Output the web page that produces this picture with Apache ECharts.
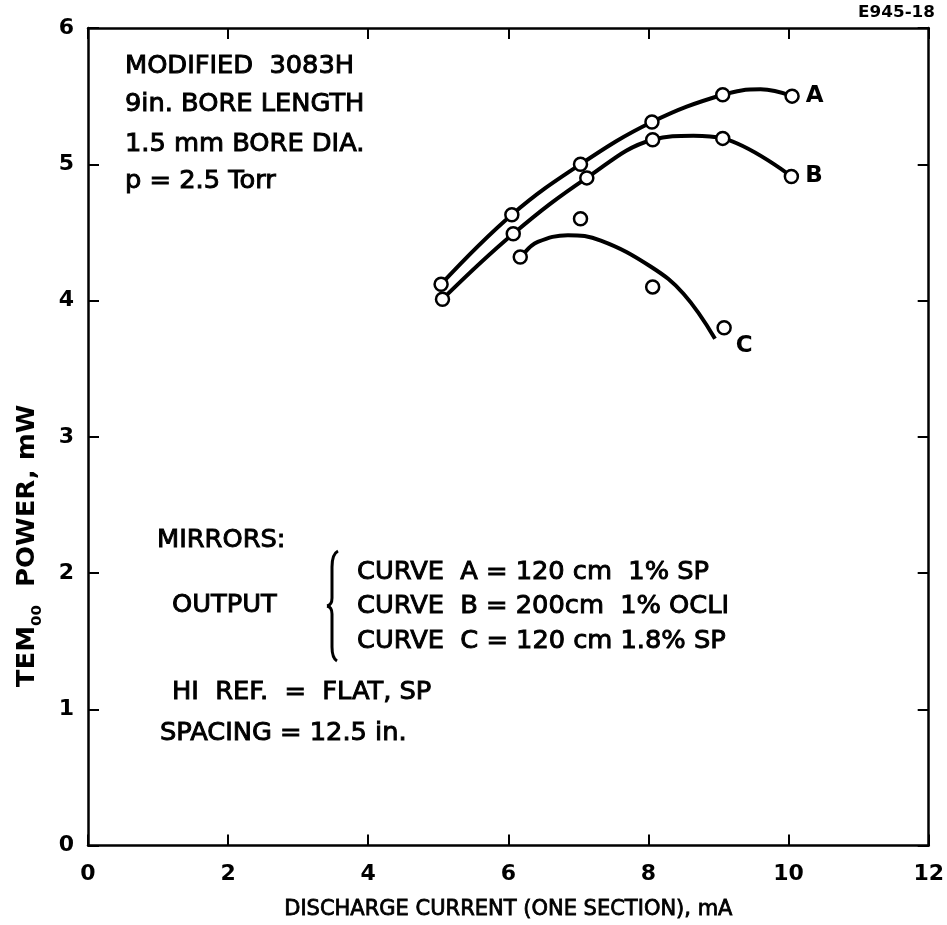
<!DOCTYPE html>
<html>
<head>
<meta charset="utf-8">
<script src="https://cdn.jsdelivr.net/npm/echarts@6/dist/echarts.min.js"></script>
<style>
html,body{margin:0;padding:0;background:#fff;}
#c{width:947px;height:925px;}
</style>
</head>
<body>
<div id="c"></div>
<script>
// ---- data ----
const xTicks = [0, 2, 4, 6, 8, 10, 12];
const yTicks = [0, 1, 2, 3, 4, 5, 6];

// measured points (open circles)
const pointsA = [[5.04, 4.12], [6.05, 4.63], [7.03, 5.00], [8.05, 5.31], [9.06, 5.51], [10.05, 5.50]];
const pointsB = [[5.06, 4.01], [6.07, 4.49], [7.12, 4.90], [8.06, 5.18], [9.06, 5.19], [10.04, 4.91]];
const pointsC = [[6.17, 4.32], [7.03, 4.60], [8.06, 4.10], [9.08, 3.80]];

// hand-drawn curves
const curveA = [[5.04, 4.12], [6.05, 4.63], [7.03, 5.00], [8.05, 5.31], [9.06, 5.51], [9.60, 5.55], [10.05, 5.50]];
const curveB = [[5.06, 4.01], [6.07, 4.49], [7.12, 4.90], [8.06, 5.18], [8.64, 5.21], [9.06, 5.19], [10.04, 4.91]];
const curveC = [[6.23, 4.35], [6.42, 4.43], [6.85, 4.48], [7.32, 4.44], [8.03, 4.25], [8.50, 4.05], [8.95, 3.72]];

const curveNames = ['A', 'B', 'C'];

const topNotes = ['MODIFIED  3083H', '9in. BORE LENGTH', '1.5 mm BORE DIA.', 'p = 2.5 Torr'];
const mirrorNotes = ['CURVE  A = 120 cm  1% SP', 'CURVE  B = 200cm  1% OCLI', 'CURVE  C = 120 cm 1.8% SP'];

const xTitle = 'DISCHARGE CURRENT (ONE SECTION), mA';
const figId = 'E945-18';

// ---- chart ----
const FONT = 'DejaVu Sans';
const chart = echarts.init(document.getElementById('c'), null, {renderer: 'canvas'});

function lineSeries(data) {
  return {
    type: 'line', data: data, smooth: 0.4, showSymbol: false, symbol: 'none',
    lineStyle: {color: '#000', width: 4}, z: 2, silent: true, animation: false
  };
}
function pointSeries(data, name, labelOpt) {
  return {
    type: 'scatter', z: 5, animation: false, silent: true,
    symbol: 'circle', symbolSize: 13,
    itemStyle: {color: '#fff', borderColor: '#000', borderWidth: 2.5, opacity: 1},
    data: data.map(function (p, i) {
      const item = {value: p};
      if (i === data.length - 1) {
        item.label = Object.assign({
          show: true, formatter: name, position: 'right', distance: 6,
          color: '#000', fontFamily: FONT, fontWeight: 'bold', fontSize: 23
        }, labelOpt || {});
      }
      return item;
    })
  };
}

const axisLineStyle = {color: '#000', width: 2.5};
const tickStyle = {show: true, inside: true, length: 11, lineStyle: {color: '#000', width: 2}};
const labelStyle = {color: '#000', fontFamily: FONT, fontWeight: 'bold', fontSize: 22};

const textStyleBase = {fill: '#000', fontFamily: FONT, fontWeight: 'normal', fontSize: 24,
  stroke: '#000', lineWidth: 0.9, verticalAlign: 'middle', align: 'left'};
function note(t, x, y) {
  return {type: 'text', x: x, y: y, scaleX: 1.07, silent: true, style: Object.assign({text: t}, textStyleBase)};
}
const graphics = [];
const topRowsY = [67, 105, 145, 182];
topNotes.forEach(function (t, i) { graphics.push(note(t, 125, topRowsY[i])); });
graphics.push(note('MIRRORS:', 157, 541));
graphics.push(note('OUTPUT', 172, 606));
const mirrorRowsY = [573, 607, 642];
mirrorNotes.forEach(function (t, i) { graphics.push(note(t, 357, mirrorRowsY[i])); });
graphics.push(note('HI  REF.  =  FLAT, SP', 172, 693));
graphics.push(note('SPACING = 12.5 in.', 160, 734));

// curly brace
const braceStyle = {fill: null, stroke: '#000', lineWidth: 3};
graphics.push({type: 'bezierCurve', silent: true, shape: {x1: 338, y1: 551, cpx1: 332, cpy1: 554, x2: 332, y2: 567}, style: braceStyle});
graphics.push({type: 'line', silent: true, shape: {x1: 332, y1: 567, x2: 332, y2: 598}, style: braceStyle});
graphics.push({type: 'bezierCurve', silent: true, shape: {x1: 332, y1: 598, cpx1: 332, cpy1: 605, x2: 327, y2: 606}, style: braceStyle});
graphics.push({type: 'bezierCurve', silent: true, shape: {x1: 327, y1: 606, cpx1: 332, cpy1: 607, x2: 332, y2: 614}, style: braceStyle});
graphics.push({type: 'line', silent: true, shape: {x1: 332, y1: 614, x2: 332, y2: 647}, style: braceStyle});
graphics.push({type: 'bezierCurve', silent: true, shape: {x1: 332, y1: 647, cpx1: 332, cpy1: 658, x2: 337, y2: 661}, style: braceStyle});

graphics.push({type: 'text', x: 935, y: 13, scaleX: 1.12, silent: true,
  style: {text: figId, fill: '#000', fontFamily: FONT, fontWeight: 'bold', fontSize: 15, align: 'right', verticalAlign: 'middle'}});
graphics.push({
  type: 'text', x: 28, y: 546, rotation: Math.PI / 2, scaleX: 1.08, silent: true,
  style: {
    text: '{a|TEM}{s|00}{a|  POWER, mW}',
    align: 'center', verticalAlign: 'middle',
    rich: {
      a: {fill: '#000', fontFamily: FONT, fontWeight: 'bold', fontSize: 24, lineHeight: 32, verticalAlign: 'middle'},
      s: {fill: '#000', fontFamily: FONT, fontWeight: 'bold', fontSize: 14, lineHeight: 32, verticalAlign: 'bottom', padding: [12, 0, 0, 0]}
    }
  }
});

const option = {
  backgroundColor: '#fff',
  animation: false,
  grid: {left: 88, right: 14, top: 28, bottom: 77, containLabel: false},
  xAxis: [{
    type: 'value', position: 'bottom', min: xTicks[0], max: xTicks[xTicks.length - 1], interval: 2,
    axisLine: {show: true, onZero: false, lineStyle: axisLineStyle},
    axisTick: tickStyle, splitLine: {show: false},
    axisLabel: Object.assign({margin: 18}, labelStyle),
    name: xTitle, nameLocation: 'middle', nameGap: 53,
    nameTextStyle: {color: '#000', fontFamily: FONT, fontWeight: 'normal', fontSize: 21,
      textBorderColor: '#000', textBorderWidth: 0.8}
  }, {
    type: 'value', position: 'top', min: xTicks[0], max: xTicks[xTicks.length - 1], interval: 2,
    axisLine: {show: true, onZero: false, lineStyle: axisLineStyle},
    axisTick: tickStyle, splitLine: {show: false}, axisLabel: {show: false}
  }],
  yAxis: [{
    type: 'value', position: 'left', min: yTicks[0], max: yTicks[yTicks.length - 1], interval: 1,
    axisLine: {show: true, onZero: false, lineStyle: axisLineStyle},
    axisTick: tickStyle, splitLine: {show: false},
    axisLabel: Object.assign({margin: 14}, labelStyle)
  }, {
    type: 'value', position: 'right', min: yTicks[0], max: yTicks[yTicks.length - 1], interval: 1,
    axisLine: {show: true, onZero: false, lineStyle: axisLineStyle},
    axisTick: tickStyle, splitLine: {show: false}, axisLabel: {show: false}
  }],
  series: [
    lineSeries(curveA),
    lineSeries(curveB),
    lineSeries(curveC),
    pointSeries(pointsA, curveNames[0]),
    pointSeries(pointsB, curveNames[1]),
    pointSeries(pointsC, curveNames[2], {offset: [0, 18], distance: 4})
  ],
  graphic: graphics
};
chart.setOption(option);
</script>
</body>
</html>
